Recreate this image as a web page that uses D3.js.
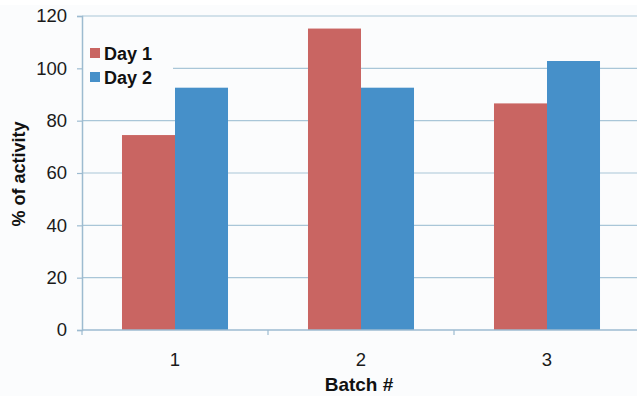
<!DOCTYPE html>
<html><head><meta charset="utf-8">
<script src="https://cdn.jsdelivr.net/npm/d3@7"></script>
<style>html,body{margin:0;padding:0;background:#fff;}svg{display:block;}</style>
</head><body>
<script>
const categories = ["1", "2", "3"];
const seriesNames = ["Day 1", "Day 2"];
const day1 = [74.5, 115.2, 86.6];
const day2 = [92.6, 92.6, 102.8];
const yTicks = [0, 20, 40, 60, 80, 100, 120];
const colors = ["#c96562", "#4690c9"];
const FONT = "'Liberation Sans', Arial, Helvetica, sans-serif";

const W = 637, H = 396;
const svg = d3.select("body").append("svg").attr("width", W).attr("height", H);
svg.append("rect").attr("x",0).attr("y",0).attr("width",W).attr("height",H).attr("fill","#ffffff");
svg.append("rect").attr("x",0).attr("y",5).attr("width",W).attr("height",H-5).attr("fill","#fbfcfd");

const x0 = d3.scaleBand().domain(categories).range([82, 640]).paddingInner(0.43).paddingOuter(0.215);
const x1 = d3.scaleBand().domain(seriesNames).range([0, x0.bandwidth()]);
const y = d3.scaleLinear().domain([0, 120]).range([330, 16]);

const gridColor = "#a9c6d8";
svg.append("g").selectAll("line").data(yTicks.filter(d => d > 0)).join("line")
  .attr("x1", 82).attr("x2", 640)
  .attr("y1", d => y(d)).attr("y2", d => y(d))
  .attr("stroke", gridColor).attr("stroke-width", 1.2);

// legend background (hides gridline)
svg.append("rect").attr("x", 83).attr("y", 40).attr("width", 90).attr("height", 52).attr("fill", "#fbfcfd");

// bars
const data = categories.map((c, i) => ({c, vals: [day1[i], day2[i]]}));
const g = svg.append("g");
data.forEach(d => {
  d.vals.forEach((v, j) => {
    g.append("rect")
      .attr("x", x0(d.c) + x1(seriesNames[j]))
      .attr("y", y(v))
      .attr("width", x1.bandwidth())
      .attr("height", y(0) - y(v))
      .attr("fill", colors[j]);
  });
});

// y axis
const yAxis = d3.axisLeft(y).tickValues(yTicks).tickSize(5).tickPadding(10).tickFormat(d3.format("d"));
const ya = svg.append("g").attr("transform", "translate(82,0)").call(yAxis);
ya.select(".domain").attr("stroke", "#9dbbd0").attr("stroke-width", 1.5);
ya.selectAll(".tick line").attr("stroke", "#9dbbd0").attr("stroke-width", 1.2);
ya.selectAll(".tick text").attr("font-family", FONT).attr("font-size", 18.5).attr("fill", "#1a1a1a");

// x axis
const xa = svg.append("g").attr("transform", "translate(0,330)");
xa.append("line").attr("x1", 82).attr("x2", 640).attr("y1", 0).attr("y2", 0).attr("stroke", "#9dbbd0").attr("stroke-width", 1.5);
const step = x0.step();
const boundaries = categories.slice(1).map(c => x0(c) - step * x0.paddingInner() / 2);
xa.selectAll("line.tk").data([82].concat(boundaries)).join("line").attr("class","tk")
  .attr("x1", d => d).attr("x2", d => d).attr("y1", 0).attr("y2", 5)
  .attr("stroke", "#9dbbd0").attr("stroke-width", 1.2);
xa.selectAll("text").data(categories).join("text")
  .attr("x", d => x0(d) + x0.bandwidth() / 2).attr("y", 36)
  .attr("text-anchor", "middle")
  .attr("font-family", FONT).attr("font-size", 18.5).attr("fill", "#1a1a1a")
  .text(d => d);

// axis titles
svg.append("text").attr("x", 359).attr("y", 391).attr("text-anchor", "middle")
  .attr("font-family", FONT).attr("font-size", 19).attr("font-weight", "bold").attr("fill", "#111")
  .text("Batch #");
svg.append("text").attr("transform", "translate(25,174) rotate(-90)").attr("text-anchor", "middle")
  .attr("font-family", FONT).attr("font-size", 18).attr("font-weight", "bold").attr("fill", "#111")
  .text("% of activity");

// legend
const lg = svg.append("g");
seriesNames.forEach((s, i) => {
  lg.append("rect").attr("x", 90).attr("y", 48 + i * 24).attr("width", 10).attr("height", 10).attr("fill", colors[i]);
  lg.append("text").attr("x", 104).attr("y", 60 + i * 24)
    .attr("font-family", FONT).attr("font-size", 18).attr("font-weight", "bold").attr("fill", "#111")
    .text(s);
});
</script>
</body></html>
